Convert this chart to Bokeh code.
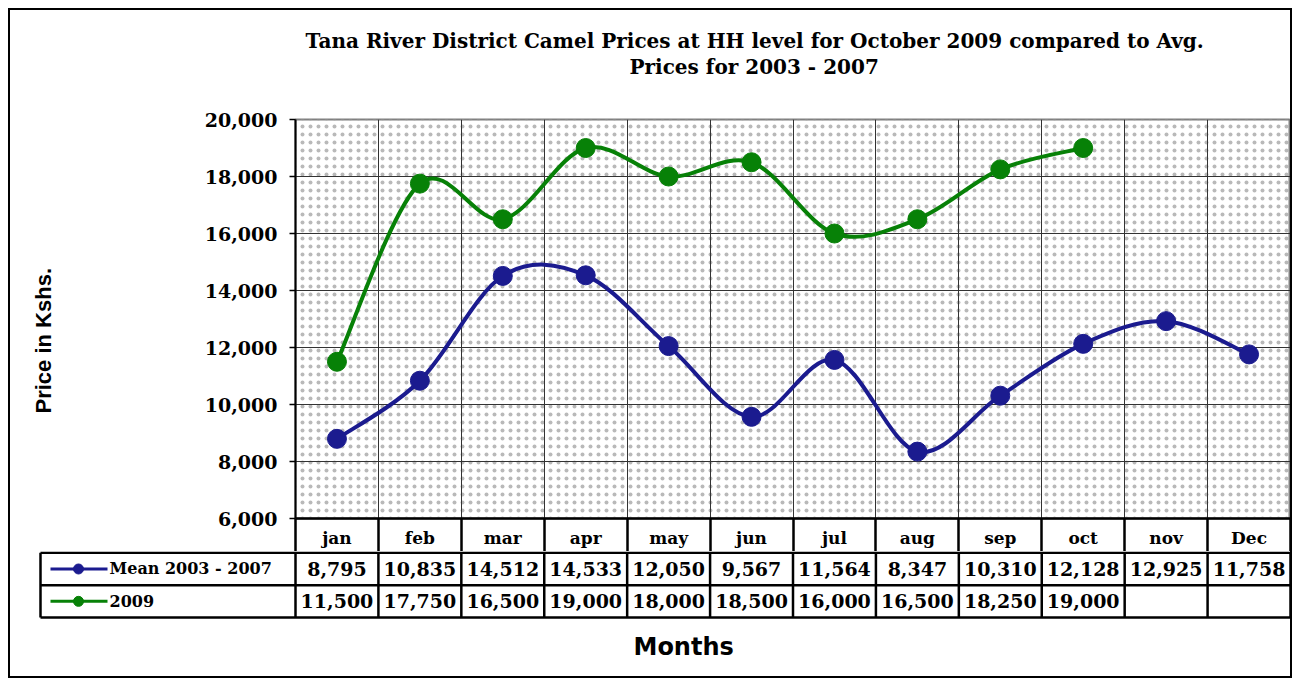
import numpy as np
from bokeh.plotting import figure
from bokeh.layouts import column
from bokeh.models import (Range1d, LinearAxis, FixedTicker, NumeralTickFormatter,
                          Title, BoxAnnotation, Grid)
from bokeh.core.properties import value
from bokeh.embed import file_html
from bokeh.resources import INLINE

# ---------------- data ----------------
months = ["jan", "feb", "mar", "apr", "may", "jun", "jul", "aug", "sep", "oct", "nov", "Dec"]
mean_2003_2007 = [8795, 10835, 14512, 14533, 12050, 9567, 11564, 8347, 10310, 12128, 12925, 11758]
prices_2009 = [11500, 17750, 16500, 19000, 18000, 18500, 16000, 16500, 18250, 19000]
y_ticks = [6000, 8000, 10000, 12000, 14000, 16000, 18000, 20000]
series_names = ["Mean 2003 - 2007", "2009"]
title_line1 = "Tana River District Camel Prices at HH level for October 2009 compared to Avg."
title_line2 = "Prices for 2003 - 2007"
y_label = "Price in Kshs."
x_label = "Months"

# ---------------- styles ----------------
BLUE = "#1b1b8f"
GREEN = "#078107"
SERIF = "DejaVu Serif"
W = 1280
U = 995 / 12.0          # pixels per month column


def bezier_parts(values):
    yv = np.asarray(values, dtype=float)
    n = len(yv)
    xv = np.arange(n) + 0.5
    i = np.arange(n - 1)
    pi = np.clip(i - 1, 0, n - 1)
    ni = np.clip(i + 2, 0, n - 1)
    return dict(
        x0=xv[i], y0=yv[i], x1=xv[i + 1], y1=yv[i + 1],
        cx0=xv[i] + (xv[i + 1] - xv[pi]) / 6.0,
        cy0=yv[i] + (yv[i + 1] - yv[pi]) / 6.0,
        cx1=xv[i + 1] - (xv[ni] - xv[i]) / 6.0,
        cy1=yv[i + 1] - (yv[ni] - yv[i]) / 6.0,
    )


# ---------------- chart figure ----------------
pA = figure(width=W, height=541, x_range=Range1d(0, 12), y_range=Range1d(6000, 20000),
            x_axis_type=None, y_axis_type=None, title=None,
            output_backend="svg", toolbar_location=None, frame_align=False,
            min_border_left=285, min_border_right=0, min_border_top=109, min_border_bottom=33)
pA.outline_line_color = "#808080"
pA.outline_line_width = 2
pA.background_fill_color = "white"

# dotted plot area
pA.add_layout(BoxAnnotation(left=0, right=12, bottom=6000, top=20000,
                            fill_alpha=0, line_color=None,
                            hatch_pattern=".", hatch_color="#a8a8a8", hatch_scale=8,
                            hatch_weight=0.5, hatch_alpha=0.8, level="underlay"))

pA.add_layout(Grid(dimension=0, ticker=FixedTicker(ticks=list(range(1, 12))),
                   grid_line_color="#333333", grid_line_width=1))
pA.add_layout(Grid(dimension=1, ticker=FixedTicker(ticks=y_ticks[1:-1]),
                   grid_line_color="#333333", grid_line_width=1))

yax = LinearAxis(ticker=FixedTicker(ticks=y_ticks), formatter=NumeralTickFormatter(format="0,0"),
                 major_label_text_font=SERIF, major_label_text_font_style="bold",
                 major_label_text_font_size="19px", major_label_text_color="black",
                 major_label_standoff=12, major_tick_out=6, major_tick_in=0,
                 major_tick_line_width=1.5, minor_tick_out=0, minor_tick_in=0,
                 axis_line_width=2, axis_line_color="black",
                 axis_label=" ", axis_label_standoff=140, axis_label_text_font_size="2px")
pA.add_layout(yax, "left")
pA.add_layout(Title(text=y_label, align="left", offset=105, vertical_align="middle", standoff=0,
                    text_font="Liberation Sans", text_font_style="bold", text_font_size="22px",
                    text_color="black"),
              "left")

xax = LinearAxis(ticker=FixedTicker(ticks=[i + 0.5 for i in range(12)], minor_ticks=list(range(13))),
                 major_label_overrides={i + 0.5: m for i, m in enumerate(months)},
                 major_tick_out=0, major_tick_in=0,
                 minor_tick_out=34, minor_tick_in=0, minor_tick_line_width=2.5,
                 minor_tick_line_color="black",
                 axis_line_width=2.5, axis_line_color="black",
                 major_label_standoff=-25, major_label_text_font=SERIF,
                 major_label_text_font_style="bold", major_label_text_font_size="17px",
                 major_label_text_color="black")
pA.add_layout(xax, "below")

# titles (spacer nearest the plot, then the two lines)
pA.add_layout(Title(text=" ", standoff=18, text_font=SERIF, text_font_size="18px"), "above")
pA.add_layout(Title(text=title_line2, align="left", offset=334, standoff=0, vertical_align="bottom",
                    text_font=SERIF, text_font_style="bold", text_font_size="20px",
                    text_color="black"), "above")
pA.add_layout(Title(text=title_line1, align="left", offset=10, standoff=0, vertical_align="bottom",
                    text_font=SERIF, text_font_style="bold", text_font_size="20px",
                    text_color="black"), "above")

# series
for vals, col in ((mean_2003_2007, BLUE), (prices_2009, GREEN)):
    pA.bezier(line_color=col, line_width=4, **bezier_parts(vals))
    pA.scatter(x=np.arange(len(vals)) + 0.5, y=vals, marker="circle", size=19,
               fill_color=col, line_color=col)

# ---------------- data table figure ----------------
L = 255 / U
pB = figure(width=W, height=125, x_range=Range1d(12 - 1254 / U, 12), y_range=Range1d(-0.06, 2.04),
            x_axis_type=None, y_axis_type=None, title=None,
            output_backend="svg", toolbar_location=None, frame_align=False,
            min_border_left=26, min_border_right=0, min_border_top=0, min_border_bottom=57)
pB.outline_line_color = None

vx = [-L] + list(range(13))
pB.segment(x0=vx, y0=[0] * len(vx), x1=vx, y1=[2] * len(vx), line_color="black", line_width=2.5)
pB.segment(x0=[-L] * 3, y0=[0, 1, 2], x1=[12] * 3, y1=[0, 1, 2], line_color="black", line_width=2.5)

for row_y, vals in ((1.5, mean_2003_2007), (0.5, prices_2009)):
    pB.text(x=np.arange(len(vals)) + 0.5, y=[row_y] * len(vals), text=[f"{v:,}" for v in vals],
            text_align="center", text_baseline="middle", text_font=value(SERIF),
            text_font_style="bold", text_font_size="19px", text_color="black")

for row_y, name, col in ((1.5, series_names[0], BLUE), (0.5, series_names[1], GREEN)):
    pB.line(x=[-L + 10 / U, -L + 67 / U], y=[row_y, row_y], line_color=col, line_width=3)
    pB.scatter(x=[-L + 38 / U], y=[row_y], marker="circle", size=10, fill_color=col, line_color=col)
    pB.text(x=[-L + 69 / U], y=[row_y], text=[name], text_align="left", text_baseline="middle",
            text_font=value(SERIF), text_font_style="bold", text_font_size="16px", text_color="black")

pB.add_layout(Title(text=x_label, align="left", offset=597, vertical_align="top", standoff=26,
                    text_font="DejaVu Sans", text_font_style="bold", text_font_size="24px",
                    text_color="black"), "below")

layout = column(pA, pB, margin=(8, 0, 0, 8), styles={"border": "2px solid black"})

open("out.html", "w").write(file_html(layout, INLINE))
